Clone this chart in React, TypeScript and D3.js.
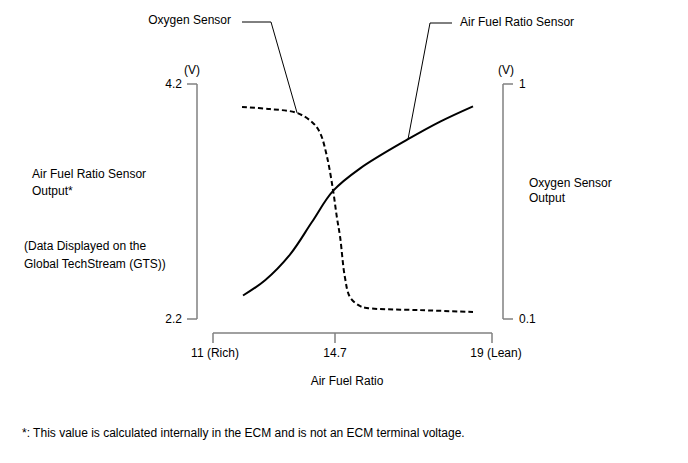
import React from "react";
import * as d3 from "d3";

// Air fuel ratio sensor output (left axis, V) vs air fuel ratio
const afrSensorAfr = [11.91, 12.58, 13.34, 14.0, 14.64, 15.38, 16.7, 17.58, 18.48];
const afrSensorVolt = [2.4, 2.53, 2.75, 3.025, 3.29, 3.48, 3.73, 3.88, 4.01];

// Oxygen sensor output (right axis, V) vs air fuel ratio
const o2Afr = [11.88, 12.73, 13.55, 14.03, 14.25, 14.46, 14.64, 14.75, 14.84, 14.97, 15.11, 15.38, 15.58, 17.03, 18.48];
const o2Volt = [0.912, 0.904, 0.889, 0.851, 0.812, 0.72, 0.594, 0.491, 0.414, 0.261, 0.184, 0.15, 0.142, 0.134, 0.127];

const xTicks = [11, 14.7, 19];
const xTickLabels = ["11 (Rich)", "14.7", "19 (Lean)"];
const leftTicks = [2.2, 4.2];
const leftTickLabels = ["2.2", "4.2"];
const rightTicks = [0.1, 1];
const rightTickLabels = ["0.1", "1"];

// callout anchors (data space)
const o2CalloutAfr = 13.55;
const afrCalloutAfr = 16.7;

const FONT = "'Liberation Sans', Arial, Helvetica, sans-serif";

export default function App() {
  const x = d3.scaleLinear().domain([11, 14.7, 19]).range([213, 335, 492]);
  const yL = d3.scaleLinear().domain([2.2, 4.2]).range([319, 84]);
  const yR = d3.scaleLinear().domain([0.1, 1]).range([319, 84]);

  const solidPts: [number, number][] = afrSensorAfr.map((a, i) => [x(a), yL(afrSensorVolt[i])]);
  const dashPts: [number, number][] = o2Afr.map((a, i) => [x(a), yR(o2Volt[i])]);
  const line = d3.line().curve(d3.curveCatmullRom.alpha(0.5));

  const o2Idx = o2Afr.indexOf(o2CalloutAfr);
  const o2Anchor = [x(o2Afr[o2Idx]), yR(o2Volt[o2Idx])];
  const afIdx = afrSensorAfr.indexOf(afrCalloutAfr);
  const afAnchor = [x(afrSensorAfr[afIdx]), yL(afrSensorVolt[afIdx])];

  const axisColor = "#808080";
  const leftX = 197;
  const rightX = 503;
  const bottomY = 333;

  const txt = { fontFamily: FONT, fontSize: 12, fill: "#000" } as const;

  return (
    <svg width={688} height={463} style={{ position: "absolute", left: 0, top: 0, background: "#fff" }}>
      <rect width={688} height={463} fill="#fff" />
      {/* left axis bracket */}
      <line x1={leftX} x2={leftX} y1={yL(4.2)} y2={yL(2.2)} stroke={axisColor} strokeWidth={1.5} />
      {leftTicks.map((t, i) => (
        <g key={"l" + i}>
          <line x1={leftX - 10} x2={leftX} y1={yL(t)} y2={yL(t)} stroke={axisColor} strokeWidth={1.5} />
          <text x={182} y={yL(t)} dy="0.35em" textAnchor="end" {...txt}>{leftTickLabels[i]}</text>
        </g>
      ))}
      <text x={192} y={70} dy="0.35em" textAnchor="middle" {...txt}>(V)</text>

      {/* right axis bracket */}
      <line x1={rightX} x2={rightX} y1={yR(1)} y2={yR(0.1)} stroke={axisColor} strokeWidth={1.5} />
      {rightTicks.map((t, i) => (
        <g key={"r" + i}>
          <line x1={rightX} x2={rightX + 10} y1={yR(t)} y2={yR(t)} stroke={axisColor} strokeWidth={1.5} />
          <text x={519} y={yR(t)} dy="0.35em" textAnchor="start" {...txt}>{rightTickLabels[i]}</text>
        </g>
      ))}
      <text x={506} y={70} dy="0.35em" textAnchor="middle" {...txt}>(V)</text>

      {/* bottom axis */}
      <line x1={x(11)} x2={x(19)} y1={bottomY} y2={bottomY} stroke={axisColor} strokeWidth={1.5} />
      {xTicks.map((t, i) => (
        <g key={"b" + i}>
          <line x1={x(t)} x2={x(t)} y1={bottomY} y2={bottomY + 10} stroke={axisColor} strokeWidth={1.5} />
          <text x={x(t) + (i === 0 ? 2 : i === 2 ? 4 : 0)} y={353} dy="0.35em" textAnchor="middle" {...txt}>{xTickLabels[i]}</text>
        </g>
      ))}
      <text x={347} y={381} dy="0.35em" textAnchor="middle" {...txt}>Air Fuel Ratio</text>

      {/* curves */}
      <path d={line(solidPts) || ""} fill="none" stroke="#000" strokeWidth={2} />
      <path d={line(dashPts) || ""} fill="none" stroke="#000" strokeWidth={2} strokeDasharray="5,3" />

      {/* callouts */}
      <text x={231} y={20} dy="0.35em" textAnchor="end" {...txt}>Oxygen Sensor</text>
      <polyline points={`242,22 271,22 ${o2Anchor[0]},${o2Anchor[1]}`} fill="none" stroke="#000" strokeWidth={1} />
      <text x={460} y={22} dy="0.35em" textAnchor="start" {...txt}>Air Fuel Ratio Sensor</text>
      <polyline points={`452,23 430,23 ${afAnchor[0]},${afAnchor[1]}`} fill="none" stroke="#000" strokeWidth={1} />

      {/* side labels */}
      <text x={32} y={174} dy="0.35em" {...txt}>Air Fuel Ratio Sensor</text>
      <text x={32} y={191} dy="0.35em" {...txt}>Output*</text>
      <text x={24} y={246} dy="0.35em" {...txt}>(Data Displayed on the</text>
      <text x={24} y={264} dy="0.35em" {...txt}>Global TechStream (GTS))</text>
      <text x={529} y={183} dy="0.35em" {...txt}>Oxygen Sensor</text>
      <text x={529} y={198} dy="0.35em" {...txt}>Output</text>

      {/* footnote */}
      <text x={22} y={433} dy="0.35em" {...txt}>*: This value is calculated internally in the ECM and is not an ECM terminal voltage.</text>
    </svg>
  );
}
